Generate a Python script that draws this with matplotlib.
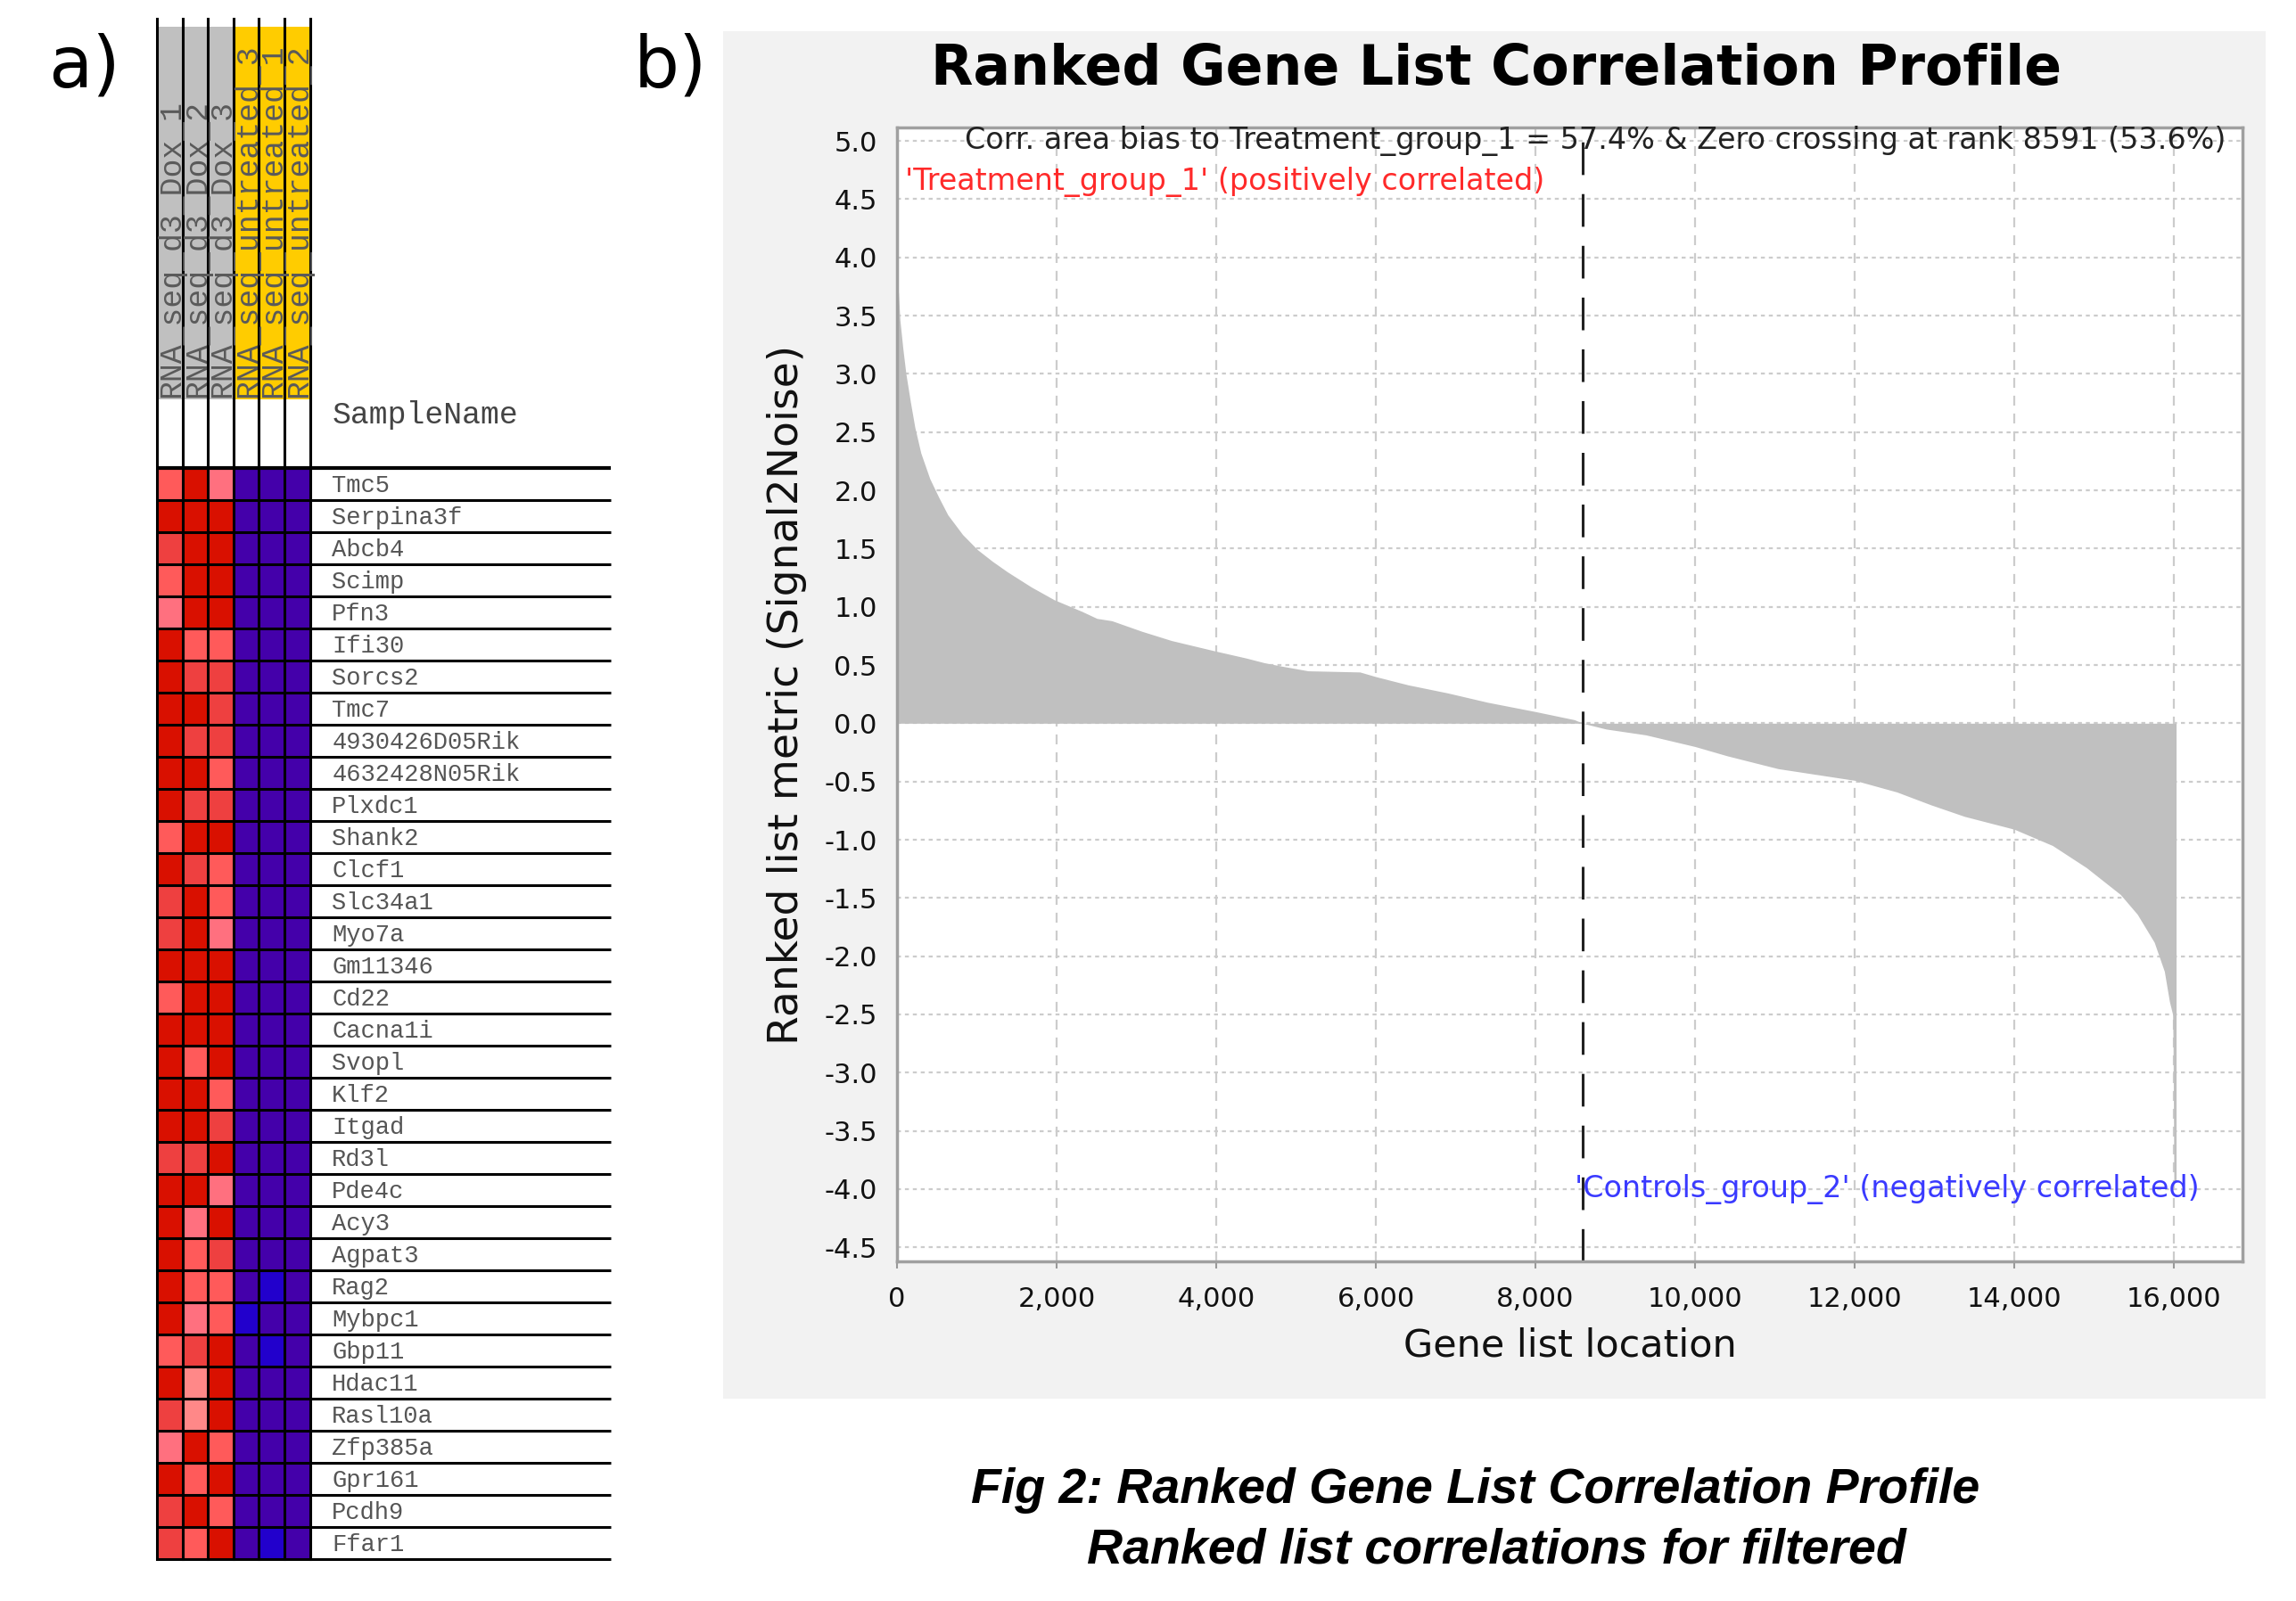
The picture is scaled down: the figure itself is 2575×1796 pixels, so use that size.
import matplotlib
matplotlib.use("Agg")
import matplotlib.pyplot as plt
import numpy as np
from matplotlib.colors import ListedColormap
from matplotlib.patches import Rectangle

# ---- panel a data ----
sample_names = ["RNA_seq_d3_Dox_1", "RNA_seq_d3_Dox_2", "RNA_seq_d3_Dox_3",
                "RNA_seq_untreated_3", "RNA_seq_untreated_1", "RNA_seq_untreated_2"]
sample_groups = ["Dox", "Dox", "Dox", "untreated", "untreated", "untreated"]

genes = ["Tmc5", "Serpina3f", "Abcb4", "Scimp", "Pfn3", "Ifi30", "Sorcs2", "Tmc7",
         "4930426D05Rik", "4632428N05Rik", "Plxdc1", "Shank2", "Clcf1", "Slc34a1",
         "Myo7a", "Gm11346", "Cd22", "Cacna1i", "Svopl", "Klf2", "Itgad", "Rd3l",
         "Pde4c", "Acy3", "Agpat3", "Rag2", "Mybpc1", "Gbp11", "Hdac11", "Rasl10a",
         "Zfp385a", "Gpr161", "Pcdh9", "Ffar1"]

# colour level per cell: 0 dark red .. 4 light pink, 5 dark blue, 6 bright blue
dox_levels = [
    [2, 0, 3], [0, 0, 0], [1, 0, 0], [2, 0, 0], [3, 0, 0], [0, 2, 2], [0, 1, 1],
    [0, 0, 1], [0, 1, 1], [0, 0, 2], [0, 1, 1], [2, 0, 0], [0, 1, 2], [1, 0, 2],
    [1, 0, 3], [0, 0, 0], [2, 0, 0], [0, 0, 0], [0, 2, 0], [0, 0, 2], [0, 0, 1],
    [1, 1, 0], [0, 0, 3], [0, 3, 0], [0, 2, 1], [0, 2, 2], [0, 3, 2], [2, 1, 0],
    [0, 4, 0], [1, 4, 0], [3, 0, 2], [0, 2, 0], [1, 0, 2], [1, 2, 0]]
untreated_levels = [[5, 5, 5]] * 25 + [[5, 6, 5], [6, 5, 5], [5, 6, 5],
                                        [5, 5, 5], [5, 5, 5], [5, 5, 5],
                                        [5, 5, 5], [5, 5, 5], [5, 6, 5]]
cell_colors = ["#d91000", "#ee4040", "#ff5a5a", "#ff707f", "#ff8888",
               "#4400aa", "#2200cc"]
group_colors = {"Dox": "#c0c0c0", "untreated": "#ffcc00"}

# ---- panel b data ----
rank = [0, 19, 37, 75, 112, 168, 224, 299, 411, 523, 636, 822, 1009, 1196, 1383,
        1682, 1970, 2318, 2505, 2692, 3065, 3439, 3988, 4373, 4600, 4822, 5150,
        5800, 6000, 6400, 6900, 7400, 8000, 8490, 8591, 8886, 9383, 10000, 10404,
        11041, 12000, 12528, 12953, 13378, 14000, 14480, 14905, 15330, 15542,
        15754, 15881, 15945, 15985, 15990, 15995, 16000, 16028]
metric = [3.85, 3.69, 3.46, 3.21, 3.00, 2.76, 2.54, 2.32, 2.10, 1.94, 1.79, 1.62,
          1.49, 1.39, 1.30, 1.17, 1.06, 0.96, 0.90, 0.88, 0.79, 0.71, 0.62, 0.56,
          0.52, 0.49, 0.45, 0.44, 0.40, 0.33, 0.26, 0.18, 0.10, 0.03, 0.00, -0.05,
          -0.10, -0.20, -0.28, -0.39, -0.49, -0.59, -0.70, -0.80, -0.91, -1.05,
          -1.24, -1.47, -1.64, -1.88, -2.13, -2.39, -2.50, -2.75, -3.30, -3.93,
          -3.93]
zero_cross = 8591
y_ticks = np.arange(-4.5, 5.01, 0.5)
x_ticks = np.arange(0, 16001, 2000)

W, H = 2575, 1796


def box(x0, y0, x1, y1):
    return [x0 / W, 1 - y1 / H, (x1 - x0) / W, (y1 - y0) / H]


fig = plt.figure(figsize=(W / 100, H / 100), dpi=100)
fig.patch.set_facecolor("white")

# ---------------- panel a ----------------
ax = fig.add_axes(box(176, 21, 685, 1749))
xmax = (685 - 176) / 28.6
ax.set_xlim(0, xmax)
ax.set_ylim(34, -14)
ax.axis("off")

levels = np.hstack([np.array(dox_levels), np.array(untreated_levels)])
ax.imshow(levels, cmap=ListedColormap(cell_colors), vmin=-0.5, vmax=6.5,
          extent=(0, 6, len(genes), 0), interpolation="nearest", aspect="auto")

for i, (name, grp) in enumerate(zip(sample_names, sample_groups)):
    ax.add_patch(Rectangle((i, -13.75), 1, 13.75 - 2.14,
                           facecolor=group_colors[grp], edgecolor="none"))
    ax.text(i + 0.55, -2.2, name, rotation=90, ha="center", va="bottom",
            family="Liberation Mono", fontsize=25, color="#5a5a5a")

for x in range(7):
    ax.plot([x, x], [-14, len(genes)], color="black", lw=2.2, clip_on=False)
for y in range(len(genes) + 1):
    ax.plot([0, xmax], [y, y], color="black", lw=3 if y == 0 else 2.2,
            clip_on=False, solid_capstyle="butt")

ax.text(6.86, -1.64, "SampleName", ha="left", va="center",
        family="Liberation Mono", fontsize=25, color="#444444")
for j, g in enumerate(genes):
    ax.text(6.86, j + 0.55, g, ha="left", va="center",
            family="Liberation Mono", fontsize=19.5, color="#555555")

fig.text(54 / W, 1 - 76 / H, "a)", fontsize=58, ha="left", va="center")
fig.text(711 / W, 1 - 76 / H, "b)", fontsize=58, ha="left", va="center")

# ---------------- panel b ----------------
fig.patches.append(Rectangle((811 / W, 1 - 1569 / H), (2541 - 811) / W,
                             (1569 - 35) / H, transform=fig.transFigure,
                             facecolor="#f2f2f2", edgecolor="none", zorder=-5))

bx = fig.add_axes(box(1006, 143, 2515, 1415))
bx.set_facecolor("white")
bx.set_xlim(0, 16860)
bx.set_ylim(-4.62, 5.115)
bx.set_axisbelow(True)
bx.fill_between(rank, metric, 0, color="#c0c0c0", lw=0)
bx.axvline(zero_cross, color="#222222", lw=2.2, dashes=(12, 7))

bx.set_yticks(y_ticks)
bx.set_yticklabels([f"{v:.1f}" for v in y_ticks])
bx.set_xticks(x_ticks)
bx.set_xticklabels([f"{v:,}" for v in x_ticks])
bx.yaxis.grid(True, color="#cccccc", lw=1.6, linestyle=(0, (2, 2)))
bx.xaxis.grid(True, color="#cccccc", lw=1.6, linestyle=(0, (5, 4)))
bx.tick_params(axis="y", length=0, pad=16, labelsize=22, labelcolor="#111111")
bx.tick_params(axis="x", length=6, width=1.5, color="#999999", pad=14,
               labelsize=22, labelcolor="#111111")
for s in bx.spines.values():
    s.set_color("#a0a0a0")
    s.set_linewidth(2.5)

bx.set_ylabel("Ranked list metric (Signal2Noise)", fontsize=34, labelpad=14,
              color="#111111")
bx.set_xlabel("Gene list location", fontsize=31, labelpad=12, color="#111111")

fig.text(1678 / W, 1 - 78 / H, "Ranked Gene List Correlation Profile",
         fontsize=44.5, fontweight="bold", ha="center", va="center")
bx.text(0.9875, 5.0, "Corr. area bias to Treatment_group_1 = 57.4% & Zero crossing at rank 8591 (53.6%)",
        transform=bx.get_yaxis_transform(), ha="right", va="center",
        fontsize=24, color="#222222")
bx.text(0.006, 4.65, "'Treatment_group_1' (positively correlated)",
        transform=bx.get_yaxis_transform(), ha="left", va="center",
        fontsize=24, color="#ff2a2a")
bx.text(0.968, -4.0, "'Controls_group_2' (negatively correlated)",
        transform=bx.get_yaxis_transform(), ha="right", va="center",
        fontsize=24, color="#3a3aff")

# ---------------- caption ----------------
fig.text(1655 / W, 1 - 1672 / H, "Fig 2: Ranked Gene List Correlation Profile",
         family="Liberation Sans", fontsize=40, fontweight="bold",
         fontstyle="italic", ha="center", va="center")
fig.text(1678 / W, 1 - 1740 / H, "Ranked list correlations for filtered",
         family="Liberation Sans", fontsize=40, fontweight="bold",
         fontstyle="italic", ha="center", va="center")

fig.savefig("out.png", dpi=100)
